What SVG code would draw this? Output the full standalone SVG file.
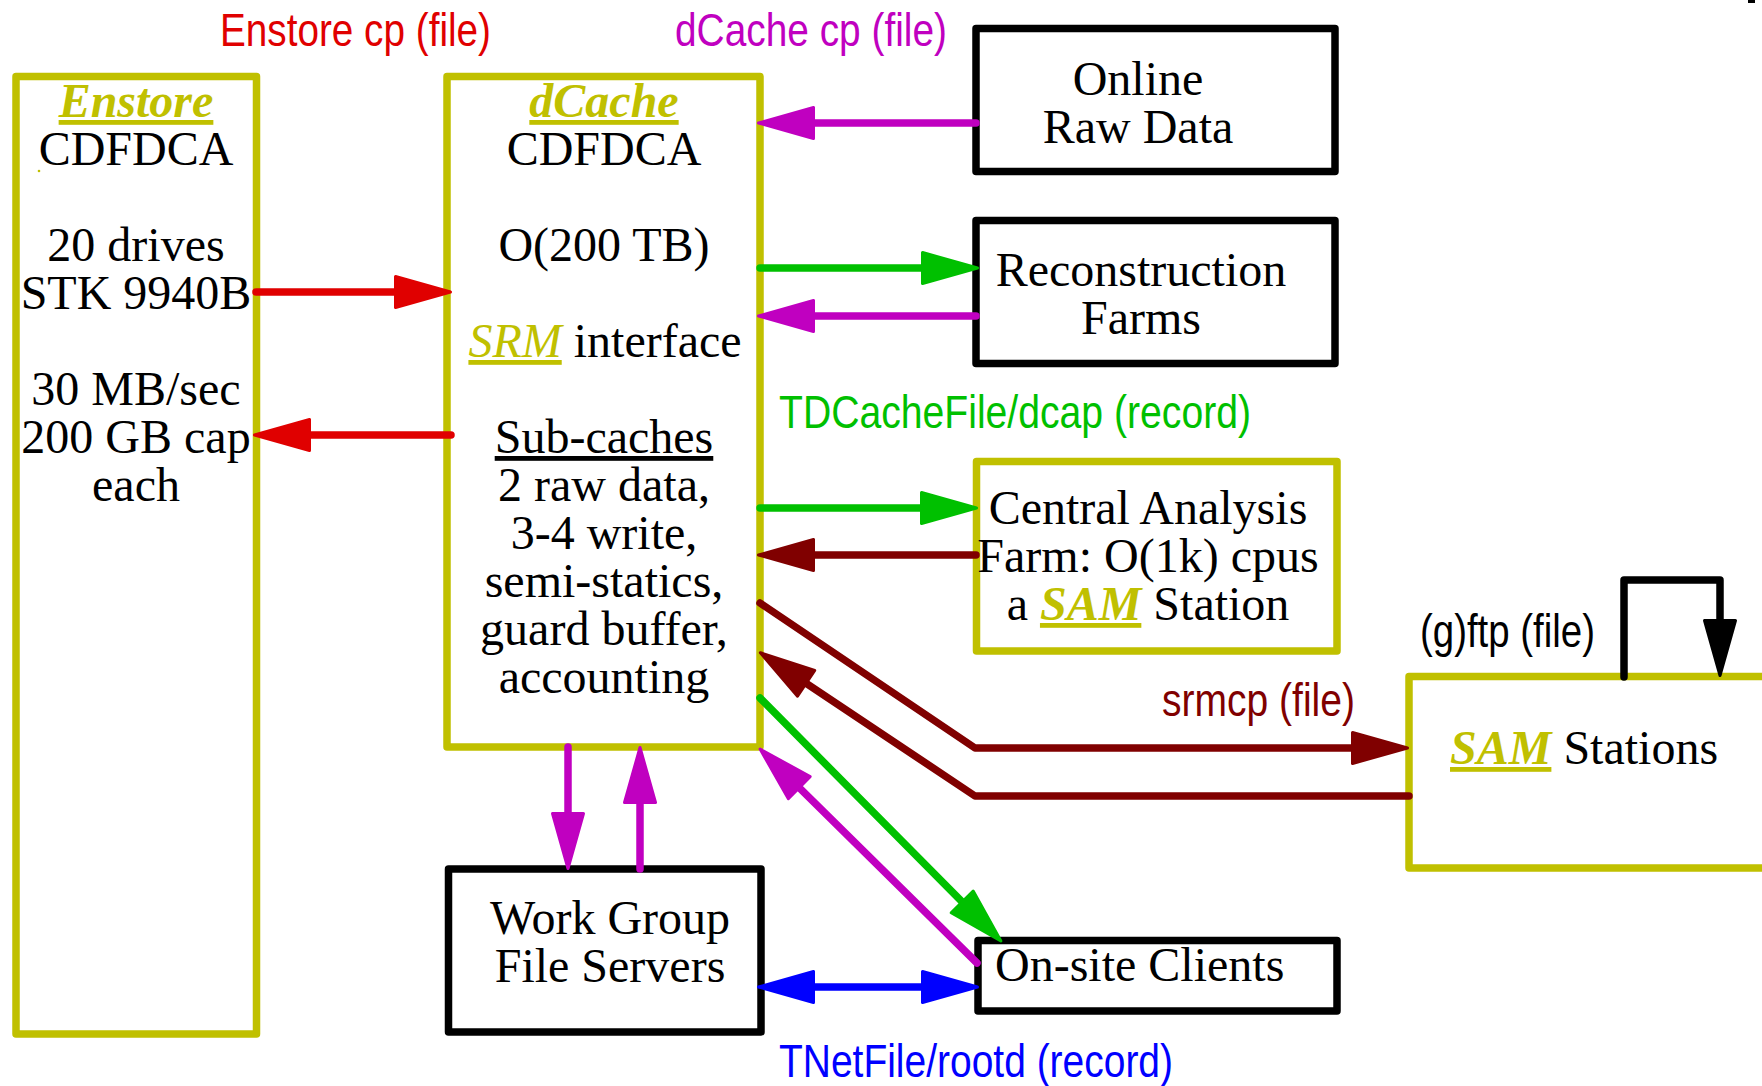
<svg xmlns="http://www.w3.org/2000/svg" width="1762" height="1086" viewBox="0 0 1762 1086">
<style>
.box{fill:#fff;stroke-width:7.5;stroke-linejoin:round}
.ol{stroke:#c0c000}
.bk{stroke:#000}
.t{font-family:"Liberation Serif","Times New Roman",serif;font-size:48px;fill:#000;text-anchor:middle}
.ts{font-family:"Liberation Serif","Times New Roman",serif;font-size:48px;fill:#000}
.hd{fill:#c0c000;font-style:italic;text-decoration:underline}
.b{font-weight:bold}
.l{font-family:"Liberation Sans",Arial,sans-serif;font-size:47px}
.c{fill:none;stroke-width:7.5;stroke-linecap:round;stroke-linejoin:round}
</style>
<defs>
<marker id="aR" viewBox="0 0 58 34" refX="18" refY="17" markerWidth="58" markerHeight="34" markerUnits="userSpaceOnUse" orient="auto-start-reverse" overflow="visible"><path d="M1.5,1.5 L56.5,17 L1.5,32.5 Z" fill="#e00000" stroke="#e00000" stroke-width="3" stroke-linejoin="round"/></marker>
<marker id="aM" viewBox="0 0 58 34" refX="18" refY="17" markerWidth="58" markerHeight="34" markerUnits="userSpaceOnUse" orient="auto-start-reverse" overflow="visible"><path d="M1.5,1.5 L56.5,17 L1.5,32.5 Z" fill="#c000c0" stroke="#c000c0" stroke-width="3" stroke-linejoin="round"/></marker>
<marker id="aG" viewBox="0 0 58 34" refX="18" refY="17" markerWidth="58" markerHeight="34" markerUnits="userSpaceOnUse" orient="auto-start-reverse" overflow="visible"><path d="M1.5,1.5 L56.5,17 L1.5,32.5 Z" fill="#00c000" stroke="#00c000" stroke-width="3" stroke-linejoin="round"/></marker>
<marker id="aD" viewBox="0 0 58 34" refX="18" refY="17" markerWidth="58" markerHeight="34" markerUnits="userSpaceOnUse" orient="auto-start-reverse" overflow="visible"><path d="M1.5,1.5 L56.5,17 L1.5,32.5 Z" fill="#800000" stroke="#800000" stroke-width="3" stroke-linejoin="round"/></marker>
<marker id="aB" viewBox="0 0 58 34" refX="18" refY="17" markerWidth="58" markerHeight="34" markerUnits="userSpaceOnUse" orient="auto-start-reverse" overflow="visible"><path d="M1.5,1.5 L56.5,17 L1.5,32.5 Z" fill="#0000ff" stroke="#0000ff" stroke-width="3" stroke-linejoin="round"/></marker>
<marker id="aK" viewBox="0 0 58 34" refX="18" refY="17" markerWidth="58" markerHeight="34" markerUnits="userSpaceOnUse" orient="auto-start-reverse" overflow="visible"><path d="M1.5,1.5 L56.5,17 L1.5,32.5 Z" fill="#000" stroke="#000" stroke-width="3" stroke-linejoin="round"/></marker>
</defs>
<rect x="0" y="0" width="1762" height="1086" fill="#fff"/>
<rect x="1748" y="0" width="7" height="3" fill="#000"/>

<g id="enstore">
<rect class="box ol" x="16" y="76.5" width="240.5" height="957.5"/>
<circle cx="39" cy="171" r="1.3" fill="#c0c000"/>
<text class="t" x="136" y="117"><tspan class="hd b">Enstore</tspan></text>
<text class="t" x="136" y="165">CDFDCA</text>
<text class="t" x="136" y="261">20 drives</text>
<text class="t" x="136" y="309">STK 9940B</text>
<text class="t" x="136" y="405">30 MB/sec</text>
<text class="t" x="136" y="453">200 GB cap</text>
<text class="t" x="136" y="501">each</text>
</g>

<g id="dcache">
<rect class="box ol" x="447" y="76.5" width="313" height="670.5"/>
<text class="t" x="604" y="117"><tspan class="hd b">dCache</tspan></text>
<text class="t" x="604" y="165">CDFDCA</text>
<text class="t" x="604" y="261">O(200 TB)</text>
<text class="t" x="605" y="357"><tspan class="hd">SRM</tspan> interface</text>
<text class="t" x="604" y="453" text-decoration="underline">Sub-caches</text>
<text class="t" x="604" y="501">2 raw data,</text>
<text class="t" x="604" y="549">3-4 write,</text>
<text class="t" x="604" y="597">semi-statics,</text>
<text class="t" x="604" y="645">guard buffer,</text>
<text class="t" x="604" y="693">accounting</text>
</g>

<g id="online">
<rect class="box bk" x="976" y="28.5" width="359" height="143"/>
<text class="t" x="1138" y="95">Online</text>
<text class="t" x="1138" y="143">Raw Data</text>
</g>

<g id="recon">
<rect class="box bk" x="976" y="220.5" width="359" height="143"/>
<text class="t" x="1141" y="286">Reconstruction</text>
<text class="t" x="1141" y="334">Farms</text>
</g>

<g id="central">
<rect class="box ol" x="976.5" y="461.5" width="360.5" height="189.5"/>
<text class="t" x="1148" y="524">Central Analysis</text>
<text class="t" x="1148" y="572">Farm: O(1k) cpus</text>
<text class="t" x="1148" y="620">a <tspan class="hd b">SAM</tspan> Station</text>
</g>

<g id="samstations">
<rect class="box ol" x="1409" y="676.5" width="420" height="191.5"/>
<text class="ts" x="1450" y="764"><tspan class="hd b">SAM</tspan> Stations</text>
</g>

<g id="workgroup">
<rect class="box bk" x="448.5" y="869" width="312.5" height="163"/>
<text class="t" x="610" y="934">Work Group</text>
<text class="t" x="610" y="982">File Servers</text>
</g>

<g id="onsite">
<rect class="box bk" x="978" y="940.5" width="359" height="70.5"/>
<text class="ts" x="995" y="981">On-site Clients</text>
</g>

<g id="connectors">
<path class="c" stroke="#e00000" d="M256,292 H412" marker-end="url(#aR)"/>
<path class="c" stroke="#e00000" d="M451,435 H293" marker-end="url(#aR)"/>
<path class="c" stroke="#c000c0" d="M976,123 H797" marker-end="url(#aM)"/>
<path class="c" stroke="#00c000" d="M760,268 H939" marker-end="url(#aG)"/>
<path class="c" stroke="#c000c0" d="M976,316 H797" marker-end="url(#aM)"/>
<path class="c" stroke="#00c000" d="M760,508 H938" marker-end="url(#aG)"/>
<path class="c" stroke="#800000" d="M976,555 H797" marker-end="url(#aD)"/>
<path class="c" stroke="#800000" d="M760,603 L975,748 H1369" marker-end="url(#aD)"/>
<path class="c" stroke="#800000" d="M1409,796 H975 L792.4,674.1" marker-end="url(#aD)"/>
<path class="c" stroke="#00c000" d="M760,698 L973.8,913.6" marker-end="url(#aG)"/>
<path class="c" stroke="#c000c0" d="M977,963 L787.5,776.1" marker-end="url(#aM)"/>
<path class="c" stroke="#0000ff" d="M797,987 H939" marker-start="url(#aB)" marker-end="url(#aB)"/>
<path class="c" stroke="#c000c0" d="M568,747 V830" marker-end="url(#aM)"/>
<path class="c" stroke="#c000c0" d="M640,869 V786" marker-end="url(#aM)"/>
<path class="c" stroke="#000" d="M1624,677 V580 H1720 V637" marker-end="url(#aK)"/>
</g>

<g id="labels">
<text class="l" x="220" y="46" fill="#e00000" textLength="271" lengthAdjust="spacingAndGlyphs">Enstore cp (file)</text>
<text class="l" x="675" y="46" fill="#c000c0" textLength="272" lengthAdjust="spacingAndGlyphs">dCache cp (file)</text>
<text class="l" x="779" y="428" fill="#00c000" textLength="472" lengthAdjust="spacingAndGlyphs">TDCacheFile/dcap (record)</text>
<text class="l" x="1162" y="716" fill="#800000" textLength="193" lengthAdjust="spacingAndGlyphs">srmcp (file)</text>
<text class="l" x="1420" y="647" fill="#000" textLength="175" lengthAdjust="spacingAndGlyphs">(g)ftp (file)</text>
<text class="l" x="779" y="1077" fill="#0000ff" textLength="394" lengthAdjust="spacingAndGlyphs">TNetFile/rootd (record)</text>
</g>
</svg>
